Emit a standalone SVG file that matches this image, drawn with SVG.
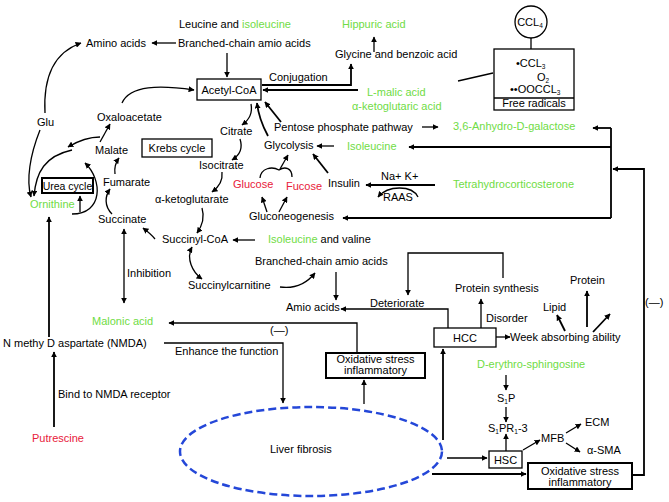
<svg xmlns="http://www.w3.org/2000/svg" width="669" height="502" viewBox="0 0 669 502">
<defs>
<marker id="ah" viewBox="0 0 10 10" refX="9" refY="5" markerWidth="6" markerHeight="6" markerUnits="userSpaceOnUse" orient="auto-start-reverse"><path d="M0,0 L10,5 L0,10 z" fill="#000"/></marker>
<style>
text{font-family:"Liberation Sans",Arial,sans-serif;font-size:11px;fill:#000}
.g{fill:#6fdc45}
.r{fill:#e8203a}
.m{text-anchor:middle}
.sub{font-size:6.5px}
.box{fill:#fff;stroke:#000;stroke-width:1.3}
.tb{fill:#fff;stroke:#000;stroke-width:2}
#connectors path{fill:none;stroke:#000;stroke-width:1.3}
#connectors .a{marker-end:url(#ah)}
#connectors .aa{marker-end:url(#ah);marker-start:url(#ah)}
#connectors .t{stroke-width:1.8}
</style>
</defs>
<rect width="669" height="502" fill="#fff"/>
<g id="connectors">
<path class="a" d="M176,43 H152"/>
<path class="a" d="M227,53 V77"/>
<path class="a" d="M122,103 C130,85 160,85 194,90"/>
<path class="a" d="M45,113 C43,75 55,52 81,43"/>
<path class="a" d="M40,130 C30,155 26,180 31,197"/>
<path class="a t" d="M262,85 H351 V64"/>
<path class="a t" d="M358,90 H263"/>
<path class="a" d="M374,52 V37"/>
<path d="M458,81 L493,73"/>
<path class="a" d="M531,38 V58"/>
<path class="a" d="M533,70 V83"/>
<path class="a" d="M422,127 H438"/>
<path class="a t" d="M632,475 H644 V169 H613"/>
<path class="t" d="M611,128 V218"/>
<path class="a t" d="M611,128 H593"/>
<path class="a t" d="M611,147 H409"/>
<path class="a t" d="M611,218 H343"/>
<path class="a" d="M334,146 H317"/>
<path class="a t" d="M268,136 C262,125 258,112 257,103"/>
<path class="a t" d="M281,122 L265,102"/>
<path class="a" d="M251,104 C253,114 249,120 242,125"/>
<path class="a" d="M240,139 C243,148 240,155 232,160"/>
<path class="a" d="M222,172 C223,181 219,187 212,192"/>
<path class="a" d="M202,208 C205,218 202,226 197,233"/>
<path class="a" d="M155,239 C151,234 147,231 143,228"/>
<path class="a" d="M112,214 C104,206 105,196 110,189"/>
<path class="a" d="M115,174 C114,167 116,162 119,158"/>
<path class="a" d="M100,142 L110,124"/>
<path class="a" d="M100,137 C90,137 78,141 68,147"/>
<path class="a" d="M72,150 C45,156 36,172 34,196"/>
<path class="a" d="M80,212 V196"/>
<path class="a" d="M72,214 C103,214 103,180 85,163"/>
<path class="a t" d="M49,337 V217"/>
<path class="a t" d="M54,427 V352"/>
<path class="a" d="M164,343 H283 V403"/>
<path class="a" d="M357,353 V323 H169"/>
<path class="a" d="M364,404 V380"/>
<path class="aa" d="M124,229 V303"/>
<path class="a" d="M267,212 L262,197"/>
<path class="a" d="M279,212 L287,197"/>
<path d="M260,178 C261,168 272,166 279,170 C285,166 292,168 292,177"/>
<path class="a" d="M280,169 L288,155"/>
<path class="a t" d="M328,173 L313,154"/>
<path class="a t" d="M435,185 H366"/>
<path class="a" d="M418,197 C412,185 388,185 378,197"/>
<path class="a" d="M255,240 H233"/>
<path class="aa" d="M192,247 C186,258 192,272 202,279"/>
<path class="a" d="M280,287 C295,289 307,283 315,273"/>
<path class="a" d="M336,272 V300"/>
<path class="a" d="M448,328 V309 H341"/>
<path class="a" d="M503,278 V253 H408 V295"/>
<path class="a" d="M481,328 V299"/>
<path class="a" d="M496,337 H510"/>
<path class="a t" d="M565,331 L557,315"/>
<path class="a t" d="M587,327 V291"/>
<path class="a t" d="M593,332 L610,314"/>
<path class="a t" d="M443,440 V349"/>
<path class="a" d="M447,458 H487"/>
<path class="a t" d="M432,474 H526"/>
<path class="a" d="M506,375 V390"/>
<path class="a" d="M506,407 V422"/>
<path class="a" d="M506,451 V434"/>
<path class="a" d="M523,450 L540,440"/>
<path class="a" d="M566,433 L581,424"/>
<path class="a" d="M566,443 L580,452"/>
</g>
<g id="n-leucine"><text x="179" y="28">Leucine and <tspan class="g">isoleucine</tspan></text></g>
<g id="n-bcaa-top"><text x="178" y="47">Branched-chain amio acids</text></g>
<g id="n-amino"><text x="86" y="47">Amino acids</text></g>
<g id="n-acetyl"><rect class="box" x="197" y="79" width="64" height="21"/><text class="m" x="229" y="94">Acetyl-CoA</text></g>
<g id="n-conj"><text x="269" y="81">Conjugation</text></g>
<g id="n-glycine"><text x="335" y="58">Glycine and benzoic acid</text></g>
<g id="n-hippuric"><text class="g" x="342" y="28">Hippuric acid</text></g>
<g id="n-lmalic"><text class="g" x="367" y="96">L-malic acid</text><text class="g" x="352" y="110">α-ketoglutaric acid</text></g>
<g id="n-ccl4"><circle cx="531" cy="22" r="16" fill="#fff" stroke="#000" stroke-width="1.3"/><text class="m" x="530" y="26">CCL<tspan class="sub" dy="2">4</tspan></text></g>
<g id="n-radicals"><rect class="box" x="494" y="49" width="80" height="61"/><line x1="494" y1="98" x2="574" y2="98" stroke="#000" stroke-width="1.3"/><text x="516" y="67">•CCL<tspan class="sub" dy="1.5">3</tspan></text><text x="537" y="81">O<tspan class="sub" dy="1.5">2</tspan></text><text x="510" y="93">••OOCCL<tspan class="sub" dy="1.5">3</tspan></text><text class="m" x="534" y="107">Free radicals</text></g>
<g id="n-anhydro"><text class="g" x="453" y="130">3,6-Anhydro-D-galactose</text></g>
<g id="n-pentose"><text x="274" y="131">Pentose phosphate pathway</text></g>
<g id="n-iso1"><text class="g" x="347" y="150">Isoleucine</text></g>
<g id="n-glycolysis"><text x="264" y="149">Glycolysis</text></g>
<g id="n-tetra"><text class="g" x="453" y="188">Tetrahydrocorticosterone</text></g>
<g id="n-nak"><text x="381" y="180">Na+ K+</text></g>
<g id="n-insulin"><text x="328" y="187">Insulin</text></g>
<g id="n-raas"><text x="383" y="201">RAAS</text></g>
<g id="n-glucose"><text class="r" x="233" y="188">Glucose</text></g>
<g id="n-fucose"><text class="r" x="286" y="190">Fucose</text></g>
<g id="n-gluconeo"><text x="249" y="220">Gluconeogenesis</text></g>
<g id="n-oxalo"><text x="97" y="121">Oxaloacetate</text></g>
<g id="n-glu"><text x="37" y="126">Glu</text></g>
<g id="n-malate"><text x="95" y="154">Malate</text></g>
<g id="n-krebs"><rect class="box" x="142" y="139" width="70" height="18"/><text class="m" x="177" y="152">Krebs cycle</text></g>
<g id="n-citrate"><text x="220" y="135">Citrate</text></g>
<g id="n-isocitrate"><text x="199" y="169">Isocitrate</text></g>
<g id="n-urea"><rect class="tb" x="42" y="178" width="51" height="15"/><text class="m" x="67.5" y="190" style="font-size:10.5px">Urea cycle</text></g>
<g id="n-fumarate"><text x="103" y="186">Fumarate</text></g>
<g id="n-akg"><text x="155" y="203">α-ketoglutarate</text></g>
<g id="n-ornithine"><text class="g" x="30" y="208">Ornithine</text></g>
<g id="n-succinate"><text x="98" y="223">Succinate</text></g>
<g id="n-succoa"><text x="162" y="243">Succinyl-CoA</text></g>
<g id="n-isoval"><text x="268" y="243"><tspan class="g">Isoleucine</tspan> and valine</text></g>
<g id="n-bcaa-mid"><text x="255" y="265">Branched-chain amio acids</text></g>
<g id="n-inhibition"><text x="127" y="277">Inhibition</text></g>
<g id="n-succcarn"><text x="188" y="289">Succinylcarnitine</text></g>
<g id="n-protsyn"><text x="455" y="292">Protein synthesis</text></g>
<g id="n-protein"><text x="570" y="284">Protein</text></g>
<g id="n-deteriorate"><text x="370" y="307">Deteriorate</text></g>
<g id="n-amio"><text x="286" y="311">Amio acids</text></g>
<g id="n-lipid"><text x="543" y="311">Lipid</text></g>
<g id="n-disorder"><text x="486" y="322">Disorder</text></g>
<g id="n-malonic"><text class="g" x="92" y="325">Malonic acid</text></g>
<g id="n-neg1"><text x="270" y="334">(—)</text></g>
<g id="n-hcc"><rect class="box" x="434" y="328" width="62" height="19"/><text class="m" x="465" y="342">HCC</text></g>
<g id="n-week"><text x="510" y="341">Week absorbing ability</text></g>
<g id="n-neg2"><text x="645" y="306">(—)</text></g>
<g id="n-nmda"><text x="3" y="347">N methy D aspartate (NMDA)</text></g>
<g id="n-enhance"><text x="175" y="355">Enhance the function</text></g>
<g id="n-ox1"><rect class="tb" x="326" y="353" width="99" height="25"/><text class="m" x="375.5" y="363">Oxidative stress</text><text class="m" x="375.5" y="374">inflammatory</text></g>
<g id="n-sphing"><text class="g" x="477" y="368">D-erythro-sphingosine</text></g>
<g id="n-bind"><text x="58" y="398">Bind to NMDA receptor</text></g>
<g id="n-s1p"><text x="497" y="402">S<tspan class="sub" dy="2">1</tspan><tspan dy="-2">P</tspan></text></g>
<g id="n-ecm"><text x="585" y="426">ECM</text></g>
<g id="n-s1pr"><text x="488" y="432">S<tspan class="sub" dy="2">1</tspan><tspan dy="-2">PR</tspan><tspan class="sub" dy="2">1</tspan><tspan dy="-2">-3</tspan></text></g>
<g id="n-mfb"><text x="541" y="442">MFB</text></g>
<g id="n-putrescine"><text class="r" x="32" y="442">Putrescine</text></g>
<g id="n-liver"><ellipse cx="311" cy="451.5" rx="131" ry="44.5" fill="none" stroke="#2447d8" stroke-width="2.5" stroke-dasharray="8,4"/><text x="270" y="453">Liver fibrosis</text></g>
<g id="n-asma"><text x="587" y="454">α-SMA</text></g>
<g id="n-hsc"><rect class="box" x="489" y="451" width="33" height="17"/><text class="m" x="505.5" y="464">HSC</text></g>
<g id="n-ox2"><rect class="tb" x="528" y="463" width="104" height="26"/><text class="m" x="580" y="475">Oxidative stress</text><text class="m" x="580" y="486">inflammatory</text></g>
</svg>
